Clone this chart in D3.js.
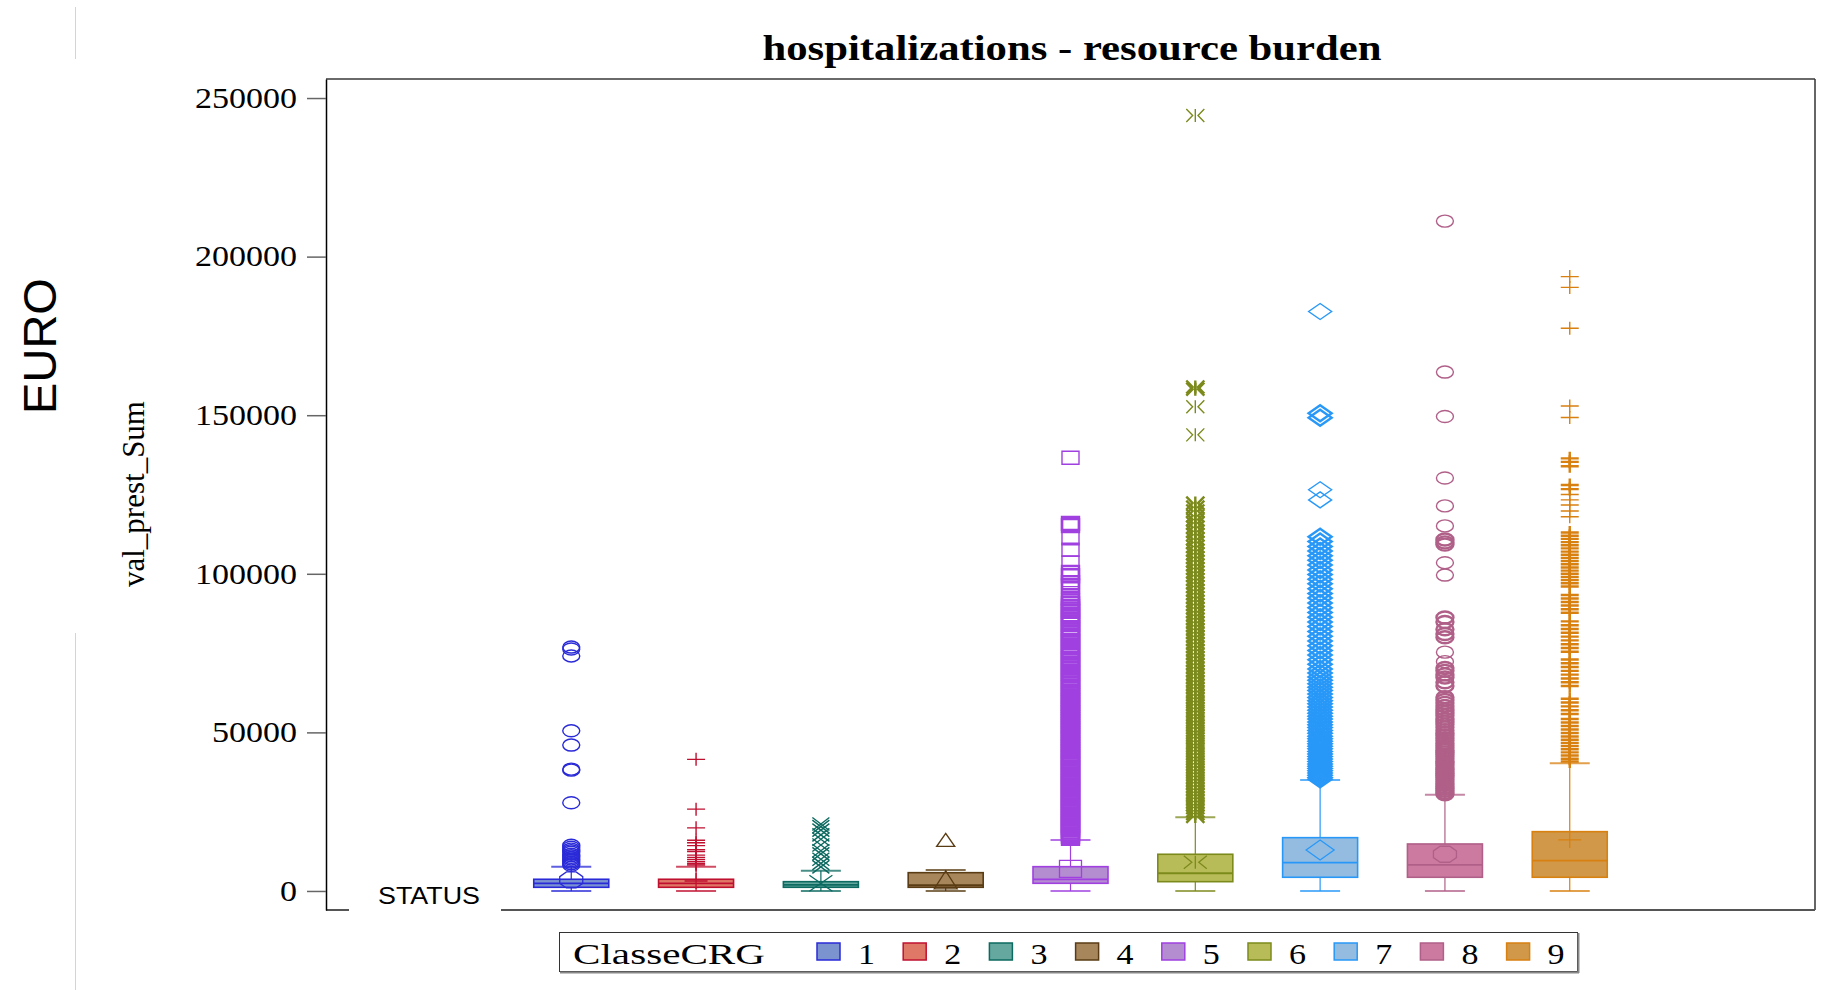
<!DOCTYPE html>
<html><head><meta charset="utf-8">
<script src="https://cdn.jsdelivr.net/npm/d3@7"></script>
<style>body{margin:0;background:#fff}svg{display:block}</style>
</head><body>
<svg id="chart" width="1824" height="990"></svg>
<script>
// ---------- data ----------
const categories = ["1","2","3","4","5","6","7","8","9"];
const q1          = [1160, 1160, 1160, 1160, 2420, 2930, 4320, 4320, 4320];
const median      = [2420, 2420, 1900, 1800, 3680, 5580, 8930, 8200, 9560];
const q3          = [3690, 3690, 2930, 5770, 7660, 11570, 16810, 14820, 18700];
const whiskerHigh = [7660, 7660, 6400, 6620, 16080, 23240, 35000, 30360, 40260];
const whiskerLow  = [0, 0, 0, 0, 0, 0, 0, 0, 0];
const means       = [3470, 3150, 2420, 3470, 6940, 9050, 12930, 11570, 16080];

const outliers1 = [76900, 76300, 74100, 50500, 46000, 38400, 38100, 27800, 14400, 13800, 13200, 12700, 12200, 11600, 11100, 10600, 10100, 9600, 9100, 8600, 8100];
const outliers2 = [41500, 25800, 19900, 16000, 15200, 14300, 13000, 12400, 11300, 10600, 9900, 9200, 8600, 8200];
const outliers3 = [21100, 20300, 19200, 17700, 16300, 14500, 12700, 11700, 10000, 8700, 7600];
const outliers4 = [16100];
const outliers5 = [136600, 115900, 115200, 111200, 107600, 103600, 100400, 99400, 97200, 96100, 93900, 92300, 91400, 90600, 89700, 88900, 88200, 87100, 86400, 85600, 84800, 84100, 83000, 82300, 81500, 80600, 79900, 79000, 78300, 77400, 76700, 75800, 75100, 74200, 73300, 72700, 71800, 71000, 70300, 69400, 68600, 67900, 67000, 66300, 65500, 64600, 63900, 63100, 62200, 61500, 60700, 60000, 59200, 58500, 57700, 57000, 56200, 55500, 54800, 54000, 53300, 52500, 51900, 51100, 50400, 49700, 48900, 48200, 47500, 46700, 46000, 45300, 44600, 43900, 43100, 42400, 41800, 41000, 40300, 39700, 38900, 38200, 37500, 36800, 36100, 35400, 34700, 34000, 33300, 32600, 31900, 31200, 30500, 29800, 29100, 28400, 27700, 27000, 26300, 25600, 24900, 24200, 23500, 22800, 22100, 21400, 20700, 20000, 19300, 18600, 17900, 17200, 16600];
const outliers6 = [244500, 158900, 158200, 152700, 143800, 122300, 121000, 119800, 118300, 117100, 116000, 114700, 113400, 112300, 111000, 109900, 108600, 107400, 106300, 105100, 104000, 102800, 101700, 100500, 99400, 98200, 97100, 96000, 94800, 93700, 92500, 91400, 90300, 89200, 88000, 86900, 85800, 84700, 83600, 82500, 81400, 80300, 79200, 78100, 77000, 75900, 74800, 73700, 72600, 71500, 70400, 69300, 68300, 67200, 66100, 65000, 64000, 62900, 61800, 60800, 59700, 58700, 57600, 56600, 55500, 54500, 53400, 52400, 51400, 50300, 49300, 48300, 47200, 46200, 45200, 44200, 43200, 42100, 41100, 40100, 39100, 38100, 37100, 36100, 35100, 34100, 33100, 32100, 31100, 30200, 29200, 28200, 27200, 26300, 25300, 24400, 23500];
const outliers7 = [182700, 150600, 149200, 126500, 123300, 111700, 110200, 108600, 107200, 105700, 104300, 102800, 101200, 99800, 98300, 96900, 95300, 93800, 92400, 90800, 89300, 87800, 86300, 84800, 83400, 81800, 80300, 78800, 77300, 75800, 74400, 72900, 71500, 70000, 68700, 67500, 66400, 65300, 64200, 63200, 62100, 61000, 60000, 59000, 58000, 57000, 56000, 55100, 54200, 53300, 52400, 51500, 50600, 49700, 48800, 48000, 47200, 46400, 45600, 44800, 44000, 43200, 42400, 41600, 40800, 40000, 39300, 38600, 37900, 37200, 36500, 35800, 35200];
const outliers8 = [211200, 163600, 149600, 130200, 121400, 115100, 110800, 109900, 109200, 103500, 99600, 86200, 84800, 82500, 81000, 80000, 75300, 72300, 70300, 69400, 68300, 67300, 65800, 64600, 61100, 60200, 59300, 58300, 57200, 56300, 55300, 54300, 53400, 52500, 51600, 50700, 49800, 49000, 48200, 47400, 46600, 45800, 45100, 44400, 43700, 43000, 42300, 41600, 40900, 40200, 39500, 38800, 38200, 37600, 37000, 36400, 35800, 35200, 34600, 34000, 33400, 32800, 32200, 31600, 31000, 30500];
const outliers9 = [193700, 190300, 177400, 152900, 149300, 136400, 135300, 133900, 128000, 126700, 125000, 123300, 121700, 119800, 118000, 113000, 112000, 111000, 110000, 109000, 108000, 107000, 106000, 105000, 104000, 103000, 102000, 101000, 100000, 99000, 98000, 97000, 96000, 93300, 92200, 91100, 90000, 88800, 87700, 85000, 83800, 82600, 81400, 80200, 79000, 77800, 76600, 75400, 73000, 71800, 70600, 69400, 68200, 67000, 65800, 64600, 60600, 59400, 58200, 57000, 55800, 54200, 53100, 52000, 50900, 49800, 48700, 47700, 46700, 45700, 44700, 43700, 42700, 41700, 40800];
const outliers = [outliers1, outliers2, outliers3, outliers4, outliers5, outliers6, outliers7, outliers8, outliers9];

const yTicks = [0, 50000, 100000, 150000, 200000, 250000];
const titleText = "hospitalizations - resource burden";
const yLabel = "val_prest_Sum";
const outerLabel = "EURO";
const xLabel = "STATUS";
const legendTitle = "ClasseCRG";

// ---------- styles ----------
const strokeColors = ["#2a2ad8", "#c01030", "#0c6a60", "#5a3c14", "#a040e0", "#7c8a1c", "#2898f8", "#b06088", "#d88010"];
const fillColors   = ["#7b94d0", "#e07868", "#64a8a0", "#a8865c", "#b48cd0", "#b8bc58", "#94bce0", "#cc7aa0", "#d09848"];
const markerTypes  = ["circle", "plus", "x", "triangle", "square", "asterisk", "diamond", "circle", "plus"];
const meanTypes    = ["octagon", "plus", "x", "triangle", "square", "asterisk", "diamond", "octagon", "plus"];
const SERIF = "'Liberation Serif','Times New Roman',serif";
const SANS = "'Liberation Sans',Arial,sans-serif";

const svg = d3.select("#chart");
const plot = {left: 326, right: 1815, top: 79, bottom: 910};

const y = d3.scaleLinear().domain([-6000, 256000]).range([plot.bottom, plot.top]);
const x = d3.scalePoint().domain(categories).range([plot.left, plot.right]).padding(1.965);

function markerPath(type, w, h) {
  const a = w / 2, b = h / 2;
  switch (type) {
    case "circle": return `M${-a},0A${a},${b} 0 1,0 ${a},0A${a},${b} 0 1,0 ${-a},0Z`;
    case "octagon": { const k = 0.42; return `M${-a*k},${-b}L${a*k},${-b}L${a},${-b*k}L${a},${b*k}L${a*k},${b}L${-a*k},${b}L${-a},${b*k}L${-a},${-b*k}Z`; }
    case "plus": return `M${-a},0H${a}M0,${-b}V${b}`;
    case "x": return `M${-a},${-b}L${a},${b}M${-a},${b}L${a},${-b}`;
    case "triangle": return `M0,${-b}L${a},${b}L${-a},${b}Z`;
    case "square": return `M${-a},${-b}H${a}V${b}H${-a}Z`;
    case "asterisk": { const g = a * 0.3; return `M${-a},${-b}L${-g},0L${-a},${b}M${a},${-b}L${g},0L${a},${b}M0,${-b}V${b}`; }
    case "diamond": return `M0,${-b}L${a},0L0,${b}L${-a},0Z`;
  }
}
const outSize = {circle:[17,12], plus:[18,13], x:[17,13], triangle:[18,13], square:[17,13], asterisk:[18,13], diamond:[23,16]};
const meanSize = {octagon:[23,16], plus:[23,16], x:[23,16], triangle:[23,18], square:[22,17], asterisk:[23,13], diamond:[28,20]};

// stroke width grows where outliers pile up (crowded markers merge into a solid column)
function crowdWidth(arr, idx) {
  const v = arr[idx];
  let gap = Infinity;
  if (idx > 0) gap = Math.min(gap, Math.abs(arr[idx-1] - v));
  if (idx < arr.length - 1) gap = Math.min(gap, Math.abs(arr[idx+1] - v));
  return gap < 1600 ? 2.4 : 1.4;
}

// faint guide lines at far left
svg.append("line").attr("x1",75.5).attr("x2",75.5).attr("y1",7).attr("y2",59).attr("stroke","#d4d4d4");
svg.append("line").attr("x1",75.5).attr("x2",75.5).attr("y1",633).attr("y2",990).attr("stroke","#d4d4d4");

// frame
svg.append("line").attr("x1",plot.left).attr("x2",plot.right).attr("y1",plot.top).attr("y2",plot.top).attr("stroke","#6a6a6a").attr("stroke-width",2);
svg.append("line").attr("x1",plot.right).attr("x2",plot.right).attr("y1",plot.top).attr("y2",plot.bottom).attr("stroke","#333").attr("stroke-width",1.5);
svg.append("line").attr("x1",plot.left).attr("x2",349).attr("y1",plot.bottom).attr("y2",plot.bottom).attr("stroke","#555").attr("stroke-width",2);
svg.append("line").attr("x1",501).attr("x2",plot.right).attr("y1",plot.bottom).attr("y2",plot.bottom).attr("stroke","#555").attr("stroke-width",2);

// y axis
const yAxis = d3.axisLeft(y).tickValues(yTicks).tickSize(19).tickSizeOuter(0).tickPadding(10).tickFormat(d3.format("d"));
const ga = svg.append("g").attr("transform", `translate(${plot.left},0)`).call(yAxis);
ga.select(".domain").attr("stroke", "#000").attr("stroke-width", 1.5);
ga.selectAll(".tick line").attr("stroke", "#666").attr("stroke-width", 1.5);
ga.selectAll(".tick text")
  .attr("font-family", SERIF).attr("font-size", 29).attr("fill", "#000")
  .each(function(d) { d3.select(this).attr("textLength", String(d).length * 17).attr("lengthAdjust", "spacingAndGlyphs"); });

// title
svg.append("text").attr("x", 1072).attr("y", 60).attr("text-anchor", "middle")
  .attr("font-family", SERIF).attr("font-weight", "bold").attr("font-size", 36)
  .attr("textLength", 619).attr("lengthAdjust", "spacingAndGlyphs").text(titleText);

// axis labels
svg.append("text").attr("transform", "translate(144,494) rotate(-90)").attr("text-anchor", "middle")
  .attr("font-family", SERIF).attr("font-size", 31).text(yLabel);
svg.append("text").attr("transform", "translate(56,346) rotate(-90)").attr("text-anchor", "middle")
  .attr("font-family", SANS).attr("font-size", 47).text(outerLabel);
svg.append("text").attr("x", 429).attr("y", 904).attr("text-anchor", "middle")
  .attr("font-family", SANS).attr("font-size", 24)
  .attr("textLength", 102).attr("lengthAdjust", "spacingAndGlyphs").text(xLabel);

// boxes
const boxW = 75, capW = 40;
categories.forEach((c, i) => {
  const cx = x(c);
  const g = svg.append("g");
  const col = strokeColors[i];
  // whiskers
  g.append("line").attr("x1", cx).attr("x2", cx).attr("y1", y(q3[i])).attr("y2", y(whiskerHigh[i])).attr("stroke", col).attr("stroke-width", 1.2);
  g.append("line").attr("x1", cx).attr("x2", cx).attr("y1", y(q1[i])).attr("y2", y(whiskerLow[i])).attr("stroke", col).attr("stroke-width", 1.2);
  [whiskerHigh[i], whiskerLow[i]].forEach(v => {
    g.append("line").attr("x1", cx - capW/2).attr("x2", cx + capW/2).attr("y1", y(v)).attr("y2", y(v))
      .attr("stroke", col).attr("stroke-width", 2).attr("stroke-opacity", 0.75);
  });
  // box
  g.append("rect").attr("x", cx - boxW/2).attr("y", y(q3[i])).attr("width", boxW).attr("height", y(q1[i]) - y(q3[i]))
    .attr("fill", fillColors[i]).attr("stroke", col).attr("stroke-width", 1.6);
  g.append("line").attr("x1", cx - boxW/2).attr("x2", cx + boxW/2).attr("y1", y(median[i])).attr("y2", y(median[i]))
    .attr("stroke", col).attr("stroke-width", 1.8);
  // mean
  const mt = meanTypes[i], ms = meanSize[mt];
  g.append("path").attr("d", markerPath(mt, ms[0], ms[1])).attr("transform", `translate(${cx},${y(means[i])})`)
    .attr("fill", "none").attr("stroke", col).attr("stroke-width", 1.3);
  // outliers
  const ot = markerTypes[i], os = outSize[ot];
  const arr = outliers[i];
  g.selectAll("path.out").data(arr).join("path").attr("class", "out")
    .attr("d", markerPath(ot, os[0], os[1]))
    .attr("transform", d => `translate(${cx},${y(d)})`)
    .attr("fill", "none").attr("stroke", col)
    .attr("stroke-width", (d, k) => (i >= 4 ? crowdWidth(arr, k) : 1.4));
});

// legend
const lg = svg.append("g");
lg.append("rect").attr("x", 559.5).attr("y", 932.5).attr("width", 1018).attr("height", 39)
  .attr("fill", "#fff").attr("stroke", "#333").attr("stroke-width", 1);
lg.append("line").attr("x1", 560).attr("x2", 1579).attr("y1", 972.5).attr("y2", 972.5).attr("stroke", "#888").attr("stroke-width", 2);
lg.append("line").attr("x1", 1578.5).attr("x2", 1578.5).attr("y1", 933).attr("y2", 973).attr("stroke", "#888").attr("stroke-width", 2);
lg.append("text").attr("x", 573).attr("y", 964).attr("font-family", SERIF).attr("font-size", 30)
  .attr("textLength", 192).attr("lengthAdjust", "spacingAndGlyphs").text(legendTitle);
const lx = d3.scalePoint().domain(categories).range([817, 817 + 8 * 86.2]);
categories.forEach((c, i) => {
  lg.append("rect").attr("x", lx(c)).attr("y", 943).attr("width", 23).attr("height", 17)
    .attr("fill", fillColors[i]).attr("stroke", strokeColors[i]).attr("stroke-width", 1.5);
  lg.append("text").attr("x", lx(c) + 41).attr("y", 964).attr("font-family", SERIF).attr("font-size", 29)
    .attr("textLength", 17).attr("lengthAdjust", "spacingAndGlyphs").text(c);
});
</script>
</body></html>
